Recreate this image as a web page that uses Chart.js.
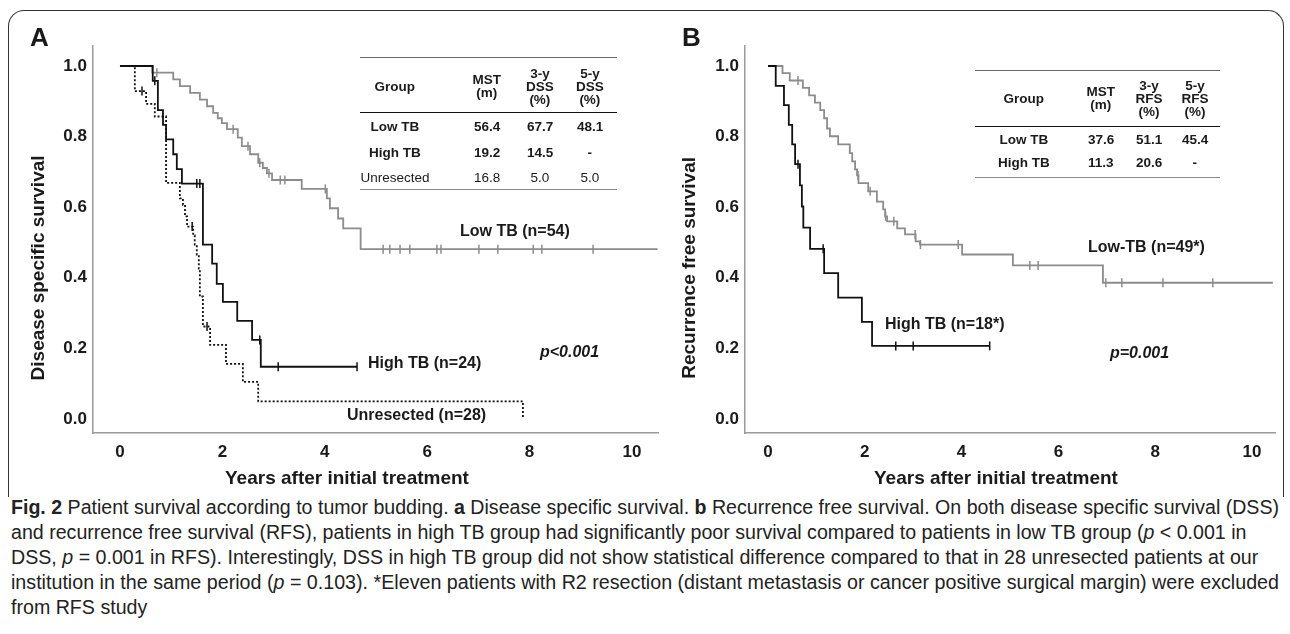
<!DOCTYPE html>
<html>
<head>
<meta charset="utf-8">
<script src="https://cdn.jsdelivr.net/npm/chart.js@4.4.1/dist/chart.umd.min.js"></script>
<style>
body { margin:0; width:1290px; height:634px; background:#fff; position:relative; overflow:hidden;
       font-family:"Liberation Sans", Arial, sans-serif; color:#1a1a1a; }
canvas { position:absolute; top:0; }
.card { position:absolute; left:8px; top:10px; width:1274px; height:486px; border:1.5px solid #333;
        border-bottom:none; border-radius:16px 16px 0 0; }
.t { position:absolute; white-space:nowrap; font-weight:bold; }
.cap { position:absolute; left:11px; white-space:nowrap; font-size:20px; line-height:24px;
       transform-origin:0 50%; color:#222; }
.rule { position:absolute; height:0; }
</style>
</head>
<body>
<div class="card"></div>
<canvas id="kmA" width="670" height="470" style="left:0"></canvas>
<canvas id="kmB" width="630" height="470" style="left:660px"></canvas>
<script>
const xTicks = [0, 2, 4, 6, 8, 10];
const yTicks = [0, 0.2, 0.4, 0.6, 0.8, 1.0];

// A: disease specific survival (years, survival)
const aLowT = [0, 0.63, 1.04, 1.17, 1.37, 1.56, 1.70, 1.82, 1.91, 1.99, 2.09, 2.30, 2.38, 2.54, 2.70, 2.79, 2.87, 2.97, 3.55, 4.04, 4.10, 4.26, 4.36, 4.70, 10.5];
const aLowS = [1, 0.981, 0.962, 0.943, 0.924, 0.905, 0.886, 0.867, 0.852, 0.838, 0.821, 0.797, 0.773, 0.750, 0.726, 0.711, 0.696, 0.677, 0.652, 0.625, 0.597, 0.568, 0.540, 0.481, 0.481];
const aLowCens = [0.72, 2.21, 2.50, 2.73, 2.91, 3.13, 3.22, 4.01, 5.14, 5.27, 5.47, 5.66, 6.19, 6.27, 7.01, 7.38, 8.07, 8.24, 9.24];

const aHighT = [0, 0.64, 0.74, 0.84, 0.90, 1.04, 1.11, 1.21, 1.62, 1.80, 1.89, 2.01, 2.29, 2.58, 2.75, 4.63];
const aHighS = [1, 0.958, 0.875, 0.833, 0.792, 0.750, 0.708, 0.667, 0.494, 0.440, 0.383, 0.332, 0.278, 0.224, 0.148, 0.148];
const aHighCens = [0.68, 1.50, 1.56, 2.73, 3.09, 4.63];

const aUnrT = [0, 0.29, 0.51, 0.68, 0.90, 1.17, 1.23, 1.27, 1.31, 1.43, 1.46, 1.50, 1.54, 1.56, 1.62, 1.76, 2.07, 2.40, 2.70, 7.87];
const aUnrS = [1, 0.929, 0.893, 0.857, 0.669, 0.625, 0.607, 0.574, 0.545, 0.520, 0.494, 0.466, 0.426, 0.347, 0.262, 0.210, 0.156, 0.105, 0.050, 0];
const aUnrCens = [0.43, 1.41, 1.70];

// B: recurrence free survival
const bLowT = [0, 0.30, 0.45, 0.72, 0.85, 0.97, 1.08, 1.16, 1.22, 1.28, 1.45, 1.69, 1.74, 1.80, 1.84, 1.87, 2.07, 2.25, 2.38, 2.42, 2.46, 2.67, 2.83, 3.05, 3.14, 4.01, 5.06, 6.92, 10.43];
const bLowS = [1, 0.980, 0.959, 0.938, 0.917, 0.896, 0.875, 0.852, 0.823, 0.801, 0.778, 0.753, 0.730, 0.707, 0.690, 0.668, 0.645, 0.616, 0.594, 0.574, 0.560, 0.540, 0.523, 0.503, 0.494, 0.466, 0.435, 0.386, 0.386];
const bLowCens = [0.62, 1.86, 2.11, 2.43, 2.60, 3.04, 3.15, 3.93, 5.41, 5.58, 6.98, 7.31, 8.16, 9.19];

const bHighT = [0, 0.16, 0.33, 0.43, 0.50, 0.56, 0.66, 0.70, 0.73, 0.87, 1.16, 1.45, 1.94, 2.15, 4.58];
const bHighS = [1, 0.944, 0.889, 0.833, 0.778, 0.722, 0.662, 0.602, 0.542, 0.482, 0.413, 0.344, 0.275, 0.207, 0.207];
const bHighCens = [0.62, 1.14, 2.64, 3.00, 4.58];

// tables
const tabAHead = ['Group', 'MST<br>(m)', '3-y<br>DSS<br>(%)', '5-y<br>DSS<br>(%)'];
const tabARows = [['Low TB', '56.4', '67.7', '48.1'], ['High TB', '19.2', '14.5', '-'], ['Unresected', '16.8', '5.0', '5.0']];
const tabBHead = ['Group', 'MST<br>(m)', '3-y<br>RFS<br>(%)', '5-y<br>RFS<br>(%)'];
const tabBRows = [['Low TB', '37.6', '51.1', '45.4'], ['High TB', '11.3', '20.6', '-']];

const GRAY = '#8c8c8c', BLACK = '#111';

function pts(T, S) { return T.map((t, i) => ({x: t, y: S[i]})); }
function cens(T, S, C) {
  return C.map(c => {
    let s = S[0];
    for (let i = 0; i < T.length; i++) if (T[i] <= c) s = S[i];
    return {x: c, y: s};
  });
}
function curve(data, color, order, dash) {
  return {type: 'line', data, borderColor: color, borderWidth: 1.8, borderDash: dash || [],
          stepped: 'before', pointRadius: 0, fill: false, order};
}
function marks(data, color, order) {
  return {type: 'scatter', data, pointStyle: 'line', pointRotation: 90, pointRadius: 4.5,
          pointBorderColor: color, pointBorderWidth: 1.5, showLine: false, order};
}

const tickFont = {family: 'Liberation Sans', size: 17, weight: 'bold'};

function km(id, datasets, xmin, xmax, yw, padRight) {
  new Chart(document.getElementById(id), {
    type: 'line',
    data: {datasets},
    options: {
      responsive: false, animation: false, events: [],
      layout: {padding: {top: 46, right: padRight, left: 0, bottom: 0}},
      plugins: {legend: {display: false}, tooltip: {enabled: false}},
      scales: {
        x: {
          type: 'linear', min: xmin, max: xmax,
          grid: {display: false, drawTicks: false},
          border: {display: true, color: '#9a9a9a', width: 1.5},
          afterBuildTicks: s => { s.ticks = xTicks.map(v => ({value: v})); },
          afterFit: s => { s.height = 37; },
          ticks: {padding: 9, color: '#1a1a1a', font: tickFont, maxRotation: 0, autoSkip: false,
                  callback: v => String(v)}
        },
        y: {
          type: 'linear', min: -0.0397, max: 1.0567,
          grid: {display: false, drawTicks: false},
          border: {display: true, color: '#9a9a9a', width: 1.5},
          afterBuildTicks: s => { s.ticks = yTicks.map(v => ({value: v})); },
          afterFit: s => { s.width = yw; },
          ticks: {padding: 6, color: '#1a1a1a', font: tickFont, callback: v => Number(v).toFixed(1)}
        }
      }
    }
  });
}

km('kmA', [
  marks(cens(aHighT, aHighS, aHighCens), BLACK, 0),
  curve(pts(aHighT, aHighS), BLACK, 1),
  marks(cens(aUnrT, aUnrS, aUnrCens), BLACK, 2),
  curve(pts(aUnrT, aUnrS), BLACK, 3, [2, 2]),
  marks(cens(aLowT, aLowS, aLowCens), GRAY, 4),
  curve(pts(aLowT, aLowS), GRAY, 5)
], -0.527, 10.508, 93, 12);

km('kmB', [
  marks(cens(bHighT, bHighS, bHighCens), BLACK, 0),
  curve(pts(bHighT, bHighS), BLACK, 1),
  marks(cens(bLowT, bLowS, bLowCens), GRAY, 2),
  curve(pts(bLowT, bLowS), GRAY, 3)
], -0.475, 10.475, 85, 15);

// text helpers
function txt(html, x, y, size, opts) {
  opts = opts || {};
  const d = document.createElement('div');
  d.className = 't';
  d.innerHTML = html;
  d.style.fontSize = size + 'px';
  d.style.lineHeight = (opts.lh || size * 1.15) + 'px';
  if (opts.normal) d.style.fontWeight = 'normal';
  if (opts.italic) d.style.fontStyle = 'italic';
  if (opts.align) d.style.textAlign = opts.align;
  document.body.appendChild(d);
  const w = d.offsetWidth, h = d.offsetHeight;
  const left = opts.anchor === 'left' ? x : x - w / 2;
  d.style.left = left + 'px';
  d.style.top = (y - h / 2) + 'px';
  if (opts.rot) { d.style.transform = 'rotate(-90deg)'; }
  return d;
}
function rule(x1, x2, y, color, w) {
  const d = document.createElement('div');
  d.className = 'rule';
  d.style.left = x1 + 'px'; d.style.width = (x2 - x1) + 'px';
  d.style.top = (y - w / 2) + 'px'; d.style.borderTop = w + 'px solid ' + color;
  document.body.appendChild(d);
}
function table(cols, head, rows, yHead, rowY, x1, x2, ruleY) {
  rule(x1, x2, ruleY[0], '#666', 1.8);
  rule(x1, x2, ruleY[1], '#111', 1.5);
  rule(x1, x2, ruleY[2], '#888', 1.8);
  head.forEach((h, i) => txt(h, cols[i], yHead, 13.5, {lh: 12.8, align: 'center'}));
  rows.forEach((r, j) => r.forEach((c, i) =>
    txt(c, cols[i], rowY[j], 13.5, {normal: r[0] === 'Unresected'})));
}

// panel letters and axis titles
txt('A', 30, 38, 26, {anchor: 'left'});
txt('B', 682, 38, 26, {anchor: 'left'});
txt('Years after initial treatment', 347, 478, 19);
txt('Years after initial treatment', 996, 478, 19);
txt('Disease specific survival', 37, 268, 19, {rot: true});
txt('Recurrence free survival', 689, 268, 19, {rot: true});

// curve labels
txt('Low TB (n=54)', 460, 231, 16, {anchor: 'left'});
txt('High TB (n=24)', 368, 363, 16, {anchor: 'left'});
txt('Unresected (n=28)', 347, 415, 16, {anchor: 'left'});
txt('p&lt;0.001', 540, 352, 16, {anchor: 'left', italic: true});
txt('Low-TB (n=49*)', 1088, 247, 16, {anchor: 'left'});
txt('High TB (n=18*)', 885, 324, 16, {anchor: 'left'});
txt('p=0.001', 1110, 353, 16, {anchor: 'left', italic: true});

table([395, 487, 540, 590], tabAHead, tabARows, 87, [127, 153, 178], 360, 617, [58, 113, 190]);
table([1024, 1101, 1149, 1195], tabBHead, tabBRows, 99, [140, 163], 975, 1220, [71, 127, 178]);

// caption
const capLines = [
  '<b>Fig. 2</b> Patient survival according to tumor budding. <b>a</b> Disease specific survival. <b>b</b> Recurrence free survival. On both disease specific survival (DSS)',
  'and recurrence free survival (RFS), patients in high TB group had significantly poor survival compared to patients in low TB group (<i>p</i> &lt; 0.001 in',
  'DSS, <i>p</i> = 0.001 in RFS). Interestingly, DSS in high TB group did not show statistical difference compared to that in 28 unresected patients at our',
  'institution in the same period (<i>p</i> = 0.103). *Eleven patients with R2 resection (distant metastasis or cancer positive surgical margin) were excluded',
  'from RFS study'
];
const capEnds = [1279, 1246, 1258, 1279, 0];
let scales = [];
capLines.forEach((h, i) => {
  const d = document.createElement('div');
  d.className = 'cap';
  d.innerHTML = h;
  d.style.top = (507 + i * 25 - 12) + 'px';
  document.body.appendChild(d);
  let k;
  if (capEnds[i]) { k = (capEnds[i] - 11) / d.offsetWidth; scales.push(k); }
  else k = scales.reduce((a, b) => a + b, 0) / scales.length;
  d.style.transform = 'scaleX(' + k + ')';
});
</script>
</body>
</html>
